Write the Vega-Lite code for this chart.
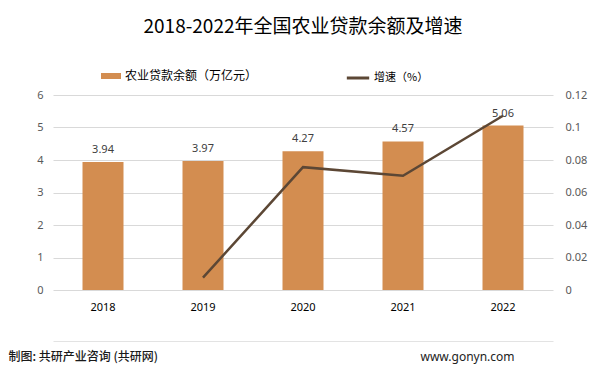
{
  "$schema": "https://vega.github.io/schema/vega-lite/v6.json",
  "width": 500,
  "height": 195,
  "autosize": {"type": "none"},
  "padding": {"left": 53, "top": 95, "right": 47, "bottom": 85},
  "background": "white",
  "title": {
    "text": "2018-2022年全国农业贷款余额及增速",
    "font": "Noto Sans CJK SC",
    "fontSize": 19,
    "fontWeight": "normal",
    "color": "#000000",
    "anchor": "middle",
    "frame": "group",
    "baseline": "bottom",
    "offset": 9
  },
  "data": {
    "values": [
      {"year": "2018", "value": 3.94, "growth": null},
      {"year": "2019", "value": 3.97, "growth": 0.0076},
      {"year": "2020", "value": 4.27, "growth": 0.0756},
      {"year": "2021", "value": 4.57, "growth": 0.0703},
      {"year": "2022", "value": 5.06, "growth": 0.1072}
    ]
  },
  "layer": [
    {
      "encoding": {
        "x": {
          "field": "year", "type": "nominal",
          "scale": {"paddingInner": 0.59, "paddingOuter": 0.295},
          "axis": {"orient": "bottom", "title": null, "domain": false, "ticks": false, "labelAngle": 0, "labelPadding": 11, "labelFontSize": 11, "labelColor": "#000000", "labelFont": "Noto Sans"}
        },
        "y": {
          "field": "value", "type": "quantitative",
          "scale": {"domain": [0, 6]},
          "axis": {
            "orient": "left",
            "values": [0, 1, 2, 3, 4, 5, 6],
            "tickCount": 7,
            "labelOverlap": false,
            "domain": false, "ticks": false, "grid": true, "gridColor": "#D9D9D9",
            "labelPadding": 10, "labelFontSize": 11, "labelColor": "#595959", "labelFont": "Noto Sans",
            "title": "制图: 共研产业咨询 (共研网)",
            "titleAngle": 0, "titleX": -45, "titleY": 261,
            "titleAlign": "left", "titleBaseline": "middle",
            "titleFont": "Noto Sans CJK SC", "titleFontSize": 12, "titleFontWeight": 500, "titleColor": "#1A1A1A"
          }
        }
      },
      "layer": [
        {
          "mark": {"type": "bar", "color": "#D38D50"},
          "encoding": {
            "color": {
              "datum": "农业贷款余额（万亿元）",
              "scale": {"range": ["#D38D50"]},
              "legend": {
                "orient": "none", "legendX": 47, "legendY": -30, "title": null,
                "symbolType": "M-1,-0.3H1V0.3H-1Z", "symbolSize": 400,
                "labelFont": "Noto Sans CJK SC", "labelFontSize": 12, "labelColor": "#000000", "labelOffset": 3
              }
            }
          }
        },
        {
          "mark": {"type": "text", "baseline": "bottom", "dy": -7, "font": "Noto Sans", "fontSize": 11, "color": "#404040"},
          "encoding": {
            "text": {"field": "value", "type": "quantitative", "format": ".2f"}
          }
        }
      ]
    },
    {
      "mark": {"type": "line", "strokeWidth": 2.5},
      "encoding": {
        "x": {
          "field": "year", "type": "nominal",
          "axis": {"orient": "bottom", "title": null, "labels": false, "ticks": false, "domain": true, "domainColor": "#E3E3E3", "offset": 51, "grid": false}
        },
        "y": {
          "field": "growth", "type": "quantitative",
          "scale": {"domain": [0, 0.12]},
          "axis": {
            "orient": "right",
            "values": [0, 0.02, 0.04, 0.06, 0.08, 0.1, 0.12],
            "labelOverlap": false,
            "format": ".2~f",
            "domain": false, "ticks": false, "grid": false,
            "labelPadding": 12, "labelFontSize": 11, "labelColor": "#595959", "labelFont": "Noto Sans",
            "title": "www.gonyn.com",
            "titleAngle": 0, "titleX": -133, "titleY": 261,
            "titleAlign": "left", "titleBaseline": "middle",
            "titleFont": "Noto Sans", "titleFontSize": 12, "titleFontWeight": "normal", "titleColor": "#222222"
          }
        },
        "color": {
          "datum": "增速（%）",
          "scale": {"range": ["#5C4735"]},
          "legend": {
            "orient": "none", "legendX": 292, "legendY": -30, "title": null,
            "symbolType": "stroke", "symbolSize": 500, "symbolStrokeWidth": 3,
            "labelFont": "Noto Sans CJK SC", "labelFontSize": 11, "labelColor": "#000000", "labelOffset": 3
          }
        }
      }
    }
  ],
  "resolve": {
    "scale": {"y": "independent", "color": "independent"},
    "axis": {"x": "independent"},
    "legend": {"color": "independent"}
  },
  "config": {
    "view": {"stroke": null}
  }
}
